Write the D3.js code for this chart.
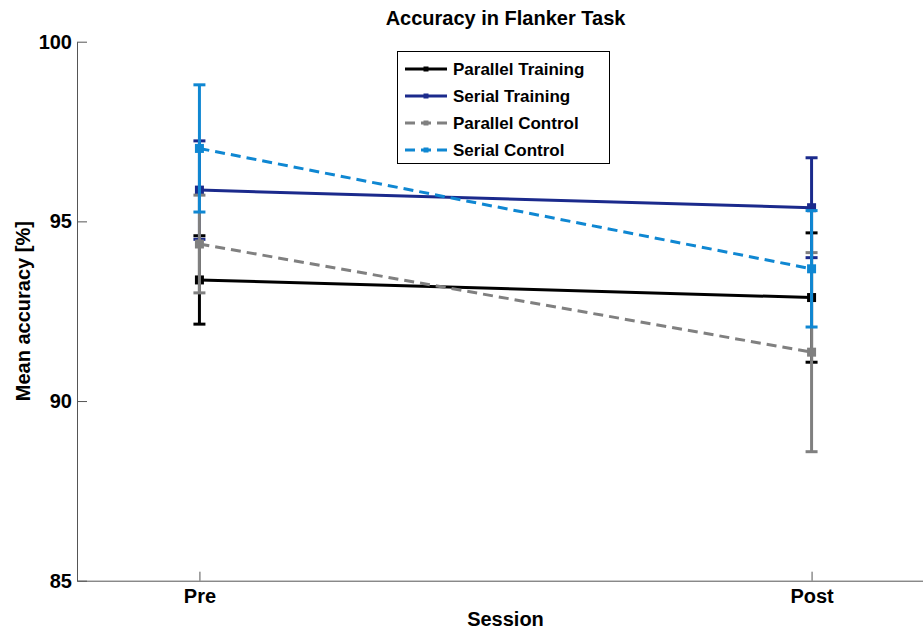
<!DOCTYPE html>
<html>
<head>
<meta charset="utf-8">
<script src="https://cdn.jsdelivr.net/npm/d3@7"></script>
<style>
  body { margin: 0; background: #fff; }
  svg { font-family: "Liberation Sans", Arial, sans-serif; font-weight: bold; }
</style>
</head>
<body>
<svg id="chart"></svg>
<script>
const width = 923;
const height = 633;

// data
const sessions = ["Pre", "Post"];
const groups = ["Parallel Training", "Serial Training", "Parallel Control", "Serial Control"];
const meanAcc = [
  [93.37, 92.88],
  [95.87, 95.38],
  [94.37, 91.36],
  [97.03, 93.68]
];
const semAcc = [
  [1.23, 1.80],
  [1.37, 1.39],
  [1.36, 2.77],
  [1.77, 1.62]
];
const colors = ["#000000", "#1b2a8c", "#808080", "#0f87d2"];
const dashes = [null, null, "10,6", "10,6"];
const yTicks = [85, 90, 95, 100];

var svg = d3.select("#chart")
    .attr("width", width)
    .attr("height", height);

var x = d3.scaleLinear().domain([0.8, 2.2]).range([77, 934]);
var y = d3.scaleLinear().domain([85, 100]).range([580.7, 41.7]);

// axes, ticks pointing inward like matlab
var xAxis = svg.append("g")
    .attr("transform", `translate(0,${y(85)})`)
    .call(d3.axisBottom(x)
        .tickValues([1, 2])
        .tickFormat((d, i) => sessions[i])
        .tickSizeInner(-9)
        .tickSizeOuter(0)
        .tickPadding(8));

var yAxis = svg.append("g")
    .attr("transform", `translate(${x(0.8)},0)`)
    .call(d3.axisLeft(y)
        .tickValues(yTicks)
        .tickSizeInner(-10)
        .tickSizeOuter(0)
        .tickPadding(5));

svg.selectAll(".domain, .tick line").attr("stroke", "#555").attr("stroke-width", 1);
svg.selectAll(".tick text")
    .attr("fill", "#000")
    .style("font-size", "20px")
    .style("font-family", "'Liberation Sans', Arial, sans-serif")
    .style("font-weight", "bold");

// titles
svg.append("text")
    .attr("x", (x(0.8) + x(2.2)) / 2)
    .attr("y", 25)
    .attr("text-anchor", "middle")
    .style("font-size", "20px")
    .text("Accuracy in Flanker Task");

svg.append("text")
    .attr("x", (x(0.8) + x(2.2)) / 2)
    .attr("y", 626)
    .attr("text-anchor", "middle")
    .style("font-size", "20px")
    .text("Session");

svg.append("text")
    .attr("transform", `translate(30,${(y(85) + y(100)) / 2}) rotate(-90)`)
    .attr("text-anchor", "middle")
    .style("font-size", "20px")
    .text("Mean accuracy [%]");

var line = d3.line()
    .x((d, i) => x(i + 1))
    .y(d => y(d));

// one group per series: error bars, line, markers
groups.forEach((g, k) => {
    var grp = svg.append("g");
    var pts = meanAcc[k].map((m, i) => ({ m: m, e: semAcc[k][i], i: i }));

    grp.selectAll(".bar")
        .data(pts)
        .enter().append("line")
        .attr("x1", d => x(d.i + 1))
        .attr("x2", d => x(d.i + 1))
        .attr("y1", d => y(d.m - d.e))
        .attr("y2", d => y(d.m + d.e))
        .attr("stroke", colors[k])
        .attr("stroke-width", 3);

    [-1, 1].forEach(s => {
        grp.selectAll(".cap" + s)
            .data(pts)
            .enter().append("line")
            .attr("x1", d => x(d.i + 1) - 6)
            .attr("x2", d => x(d.i + 1) + 6)
            .attr("y1", d => y(d.m + s * d.e))
            .attr("y2", d => y(d.m + s * d.e))
            .attr("stroke", colors[k])
            .attr("stroke-width", 3);
    });

    grp.append("path")
        .datum(meanAcc[k])
        .attr("d", line)
        .attr("fill", "none")
        .attr("stroke", colors[k])
        .attr("stroke-width", 3)
        .attr("stroke-dasharray", dashes[k]);

    grp.selectAll("rect")
        .data(pts)
        .enter().append("rect")
        .attr("x", d => x(d.i + 1) - 4.5)
        .attr("y", d => y(d.m) - 4.5)
        .attr("width", 9)
        .attr("height", 9)
        .attr("fill", colors[k]);
});

// legend
var legend = svg.append("g");
legend.append("rect")
    .attr("x", 397.5)
    .attr("y", 51.5)
    .attr("width", 212)
    .attr("height", 112)
    .attr("fill", "#fff")
    .attr("stroke", "#000")
    .attr("stroke-width", 1);

groups.forEach((g, k) => {
    var ly = 69 + k * 27;
    legend.append("line")
        .attr("x1", 405).attr("x2", 447)
        .attr("y1", ly).attr("y2", ly)
        .attr("stroke", colors[k])
        .attr("stroke-width", 3)
        .attr("stroke-dasharray", dashes[k]);
    legend.append("rect")
        .attr("x", 423.5).attr("y", ly - 2.5)
        .attr("width", 5).attr("height", 5)
        .attr("fill", colors[k]);
    legend.append("text")
        .attr("x", 453)
        .attr("y", ly)
        .attr("dy", "0.35em")
        .style("font-size", "17px")
        .text(g);
});
</script>
</body>
</html>
